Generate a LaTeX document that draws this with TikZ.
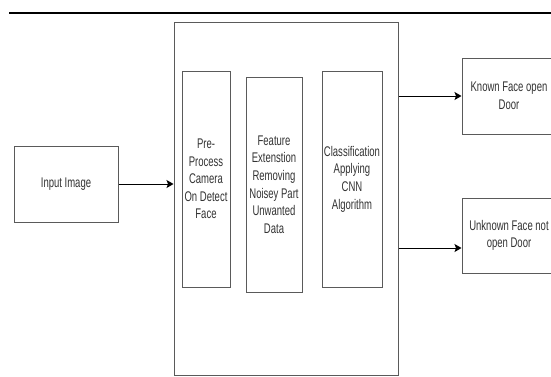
\documentclass[tikz,border=0pt]{standalone}
\usepackage{fontspec}
\setmainfont[FakeStretch=0.68]{Liberation Sans}
\usepackage{xcolor}
\usetikzlibrary{arrows.meta}
\definecolor{boxline}{HTML}{5A5A5A}
\definecolor{boxtext}{HTML}{333333}
\begin{document}
\begin{tikzpicture}[x=1pt,y=-1pt,
		box/.style={draw=boxline,line width=1pt,text=boxtext,align=center,font=\fontsize{14}{17.6}\selectfont},
		flow/.style={draw=black,line width=1pt,-{Stealth[length=7pt,width=8pt,inset=1.5pt]}}]
				\tikzstyle{every node}+=[inner sep=0pt]
				\useasboundingbox [fill=white] (0,0) rectangle (551,376);
				\draw [black,line width=1.3pt] (9,13) -- (551,13);
				\node [box,minimum width=104pt,minimum height=76pt] (inp) at (66,184) {Input Image};
				\node [box,minimum width=224pt,minimum height=353pt] (proc) at (286,198.5) {};
				\node [box,minimum width=48pt,minimum height=216pt] (pre) at (206,179) {Pre-\\Process\\Camera\\On Detect\\Face};
				\node [box,minimum width=56pt,minimum height=215pt] (feat) at (274,184.5) {Feature\\Extenstion\\Removing\\Noisey Part\\Unwanted\\Data};
				\node [box,minimum width=60pt,minimum height=216pt] (cls) at (352,179) {Classification\\Applying\\CNN\\Algorithm};
				\node [box,minimum width=94pt,minimum height=76pt] (known) at (509,96) {Known Face open\\Door};
				\node [box,minimum width=94pt,minimum height=75pt] (unk) at (509,235.5) {Unknown Face not\\open Door};
				\draw [flow] (inp.east) -- (proc.west |- inp.east);
				\draw [flow] (proc.east |- known.west) -- (known.west);
				\draw [flow] (proc.east |- 0,248) -- (unk.west |- 0,248);
\end{tikzpicture}
\end{document}
